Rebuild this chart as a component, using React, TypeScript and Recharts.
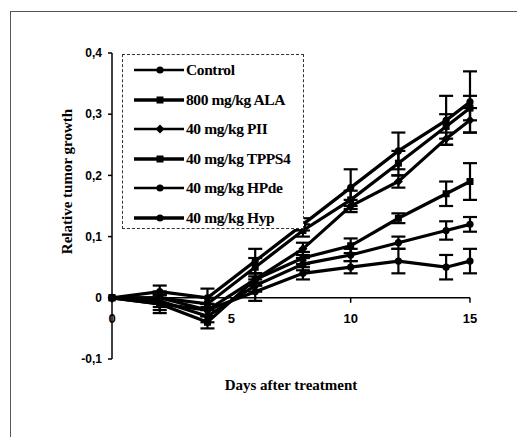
import React from "react";
import { LineChart, Line, XAxis, YAxis, ErrorBar, ReferenceLine } from "recharts";

const days = [0, 2, 4, 6, 8, 10, 12, 14, 15];

const control = [0, 0.01, 0.0, 0.06, 0.12, 0.18, 0.24, 0.29, 0.32];
const controlErr = [0, 0.01, 0.015, 0.02, 0.01, 0.03, 0.03, 0.04, 0.05];
const ala = [0, 0.0, -0.01, 0.05, 0.11, 0.16, 0.22, 0.28, 0.31];
const alaErr = [0, 0.01, 0.01, 0.015, 0.01, 0.015, 0.02, 0.02, 0.02];
const pii = [0, -0.01, -0.02, 0.03, 0.08, 0.15, 0.19, 0.26, 0.29];
const piiErr = [0, 0.01, 0.01, 0.01, 0.01, 0.01, 0.01, 0.01, 0.02];
const tpps4 = [0, -0.01, -0.04, 0.03, 0.065, 0.085, 0.13, 0.17, 0.19];
const tpps4Err = [0, 0.015, 0.01, 0.01, 0.01, 0.012, 0.008, 0.02, 0.03];
const hpde = [0, -0.005, -0.03, 0.02, 0.055, 0.07, 0.09, 0.11, 0.12];
const hpdeErr = [0, 0.01, 0.01, 0.01, 0.01, 0.01, 0.01, 0.015, 0.012];
const hyp = [0, 0.0, -0.02, 0.01, 0.04, 0.05, 0.06, 0.05, 0.06];
const hypErr = [0, 0.01, 0.01, 0.015, 0.01, 0.01, 0.02, 0.02, 0.02];

const yTicks = [-0.1, 0, 0.1, 0.2, 0.3, 0.4];
const xTicks = [0, 5, 10, 15];

const series = [
  { key: "control", name: "Control", values: control, errs: controlErr, shape: "circle" },
  { key: "ala", name: "800 mg/kg ALA", values: ala, errs: alaErr, shape: "square" },
  { key: "pii", name: "40 mg/kg PII", values: pii, errs: piiErr, shape: "diamond" },
  { key: "tpps4", name: "40 mg/kg TPPS4", values: tpps4, errs: tpps4Err, shape: "square" },
  { key: "hpde", name: "40 mg/kg HPde", values: hpde, errs: hpdeErr, shape: "circle" },
  { key: "hyp", name: "40 mg/kg Hyp", values: hyp, errs: hypErr, shape: "circle" },
];

const data = days.map((d, i) => {
  const row: any = { day: d };
  series.forEach((s) => {
    row[s.key] = s.values[i];
    row[s.key + "Err"] = s.errs[i];
  });
  return row;
});

const W = 517;
const H = 437;
const M = { top: 53, right: 47, bottom: 48, left: 62 };
const X_AXIS_H = 30;
const Y_AXIS_W = 50;
const PLOT_TOP = M.top;
const PLOT_H = H - M.top - M.bottom - X_AXIS_H;
const Y_MIN = -0.1;
const Y_MAX = 0.4;
const ZERO_Y = PLOT_TOP + (PLOT_H * (Y_MAX - 0)) / (Y_MAX - Y_MIN);

const SERIF = "'Liberation Serif', 'Times New Roman', serif";
const SANS = "'Liberation Sans', Arial, sans-serif";

const Marker = ({ cx, cy, shape }: any) => {
  if (cx == null || cy == null) return null;
  if (shape === "square") return <rect x={cx - 3.5} y={cy - 3.5} width={7} height={7} fill="#000" />;
  if (shape === "diamond")
    return <polygon points={`${cx},${cy - 4.5} ${cx + 4.5},${cy} ${cx},${cy + 4.5} ${cx - 4.5},${cy}`} fill="#000" />;
  return <circle cx={cx} cy={cy} r={3.6} fill="#000" />;
};

const XTick = ({ x, payload }: any) => (
  <g>
    <line x1={x} y1={ZERO_Y} x2={x} y2={ZERO_Y + 5} stroke="#000" strokeWidth={1.5} />
    <text x={x} y={ZERO_Y + 25} textAnchor="middle" fontFamily={SANS} fontWeight="bold" fontSize={13} fill="#000">
      {payload.value}
    </text>
  </g>
);

const fmtY = (v: number) => (v === 0 ? "0" : v.toFixed(1).replace(".", ","));

const YLabel = ({ viewBox }: any) => {
  const cx = 67;
  const cy = viewBox.y + viewBox.height * 0.42;
  return (
    <text
      x={cx}
      y={cy}
      transform={`rotate(-90 ${cx} ${cy})`}
      textAnchor="middle"
      dominantBaseline="central"
      fontFamily={SERIF}
      fontWeight="bold"
      fontSize={15}
      fill="#000"
    >
      Relative tumor growth
    </text>
  );
};

const LegendBox = () => (
  <div
    style={{
      position: "absolute",
      left: 122,
      top: 54,
      width: 182,
      height: 175,
      border: "1px dashed #333",
      boxSizing: "border-box",
      background: "#fff",
      fontFamily: SERIF,
      fontSize: 15.5,
      fontWeight: "bold",
      color: "#000",
    }}
  >
    {series.map((s, i) => (
      <div
        key={s.key}
        style={{ position: "absolute", left: 10, top: 5 + i * 29.5, height: 20, display: "flex", alignItems: "center" }}
      >
        <svg width={52} height={20} style={{ display: "block" }}>
          <line x1={1} y1={10} x2={51} y2={10} stroke="#000" strokeWidth={i % 2 === 1 ? 3.4 : 2.6} />
          <Marker cx={27} cy={10} shape={s.shape} />
        </svg>
        <span style={{ marginLeft: 1, whiteSpace: "nowrap", letterSpacing: -0.4 }}>{s.name}</span>
      </div>
    ))}
  </div>
);

export default function App() {
  return (
    <div style={{ position: "absolute", left: 0, top: 0, width: W, height: H, background: "#fff", overflow: "hidden" }}>
      <div
        style={{
          position: "absolute",
          left: 10,
          top: 11,
          width: 520,
          height: 440,
          borderTop: "1px solid #555",
          borderLeft: "1px solid #555",
        }}
      />
      <LineChart width={W} height={H} data={data} margin={M} style={{ position: "absolute", left: 0, top: 0 }}>
        <XAxis
          dataKey="day"
          type="number"
          domain={[0, 15]}
          ticks={xTicks}
          axisLine={false}
          tickLine={false}
          tick={<XTick />}
          height={X_AXIS_H}
          interval={0}
        />
        <YAxis
          type="number"
          domain={[Y_MIN, Y_MAX]}
          ticks={yTicks}
          tickFormatter={fmtY}
          width={Y_AXIS_W}
          axisLine={{ stroke: "#000", strokeWidth: 1.5 }}
          tickLine={{ stroke: "#000", strokeWidth: 1.5 }}
          tickSize={4}
          tickMargin={6}
          interval={0}
          tick={{ fill: "#000", fontSize: 12, fontWeight: "bold", fontFamily: SANS }}
          label={<YLabel />}
        />
        <ReferenceLine y={0} stroke="#000" strokeWidth={1.5} />
        {series.map((s) => (
          <Line
            key={s.key}
            dataKey={s.key}
            name={s.name}
            stroke="#000"
            strokeWidth={3.2}
            isAnimationActive={false}
            dot={(p: any) => <Marker key={`${s.key}-${p.index}`} cx={p.cx} cy={p.cy} shape={s.shape} />}
            activeDot={false}
          >
            <ErrorBar dataKey={s.key + "Err"} width={7} stroke="#000" strokeWidth={2.2} direction="y" />
          </Line>
        ))}
        <text x={291} y={390} textAnchor="middle" fontFamily={SERIF} fontWeight="bold" fontSize={15} fill="#000">
          Days after treatment
        </text>
      </LineChart>
      <LegendBox />
    </div>
  );
}
